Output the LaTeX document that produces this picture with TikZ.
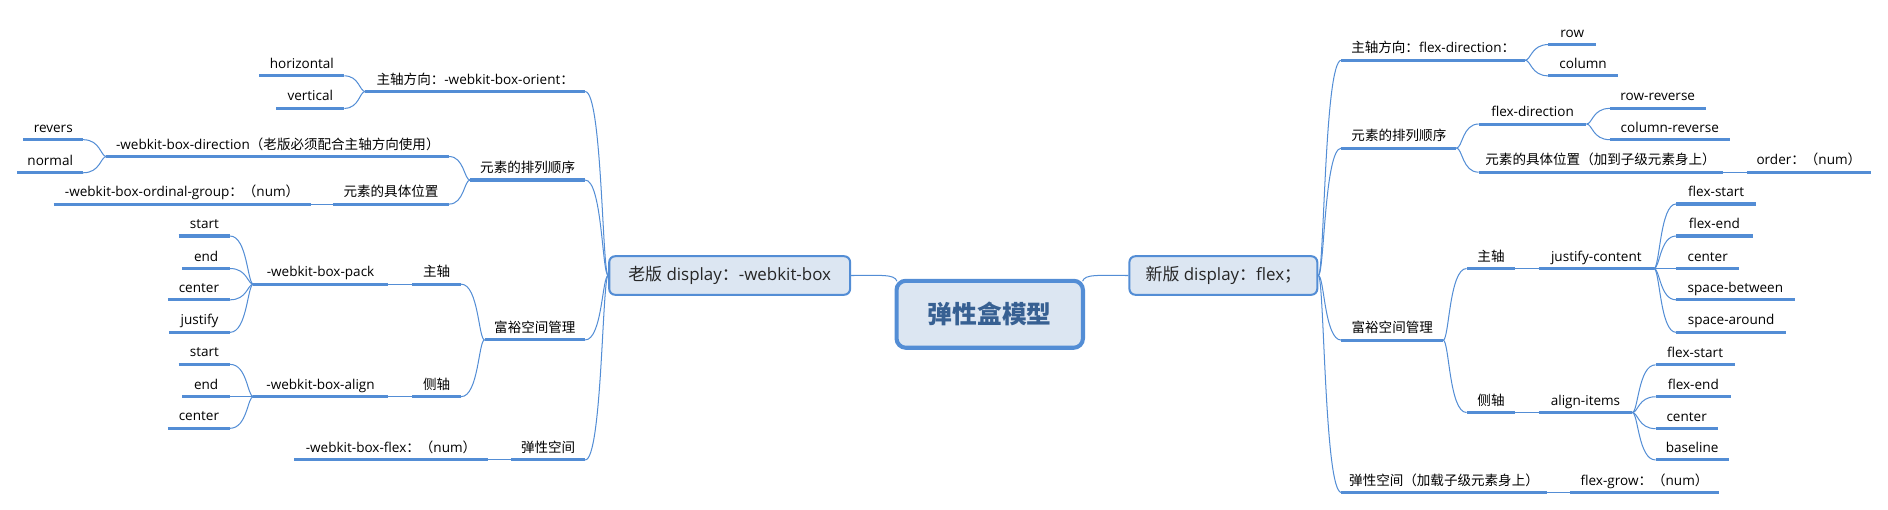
\documentclass[tikz,border=0pt]{standalone}
\usepackage{fontspec}
\usepackage{tikz}
\usetikzlibrary{calc}
\setmainfont{Open Sans}
\newfontfamily\cn{Noto Sans CJK SC}
\definecolor{xblue}{RGB}{83,141,213}
\definecolor{xfill}{RGB}{220,230,242}
\definecolor{xdark}{RGB}{55,96,146}

\begin{document}
\begin{tikzpicture}[x=0.025cm, y=-0.025cm,
    topic/.style={font=\fontsize{8}{9}\selectfont, inner xsep=0pt, inner ysep=2.4pt,
                  text height=6.2pt, text depth=1.8pt, minimum width=#1*0.025cm},
    lefttopic/.style={topic=#1, anchor=south east},
    righttopic/.style={topic=#1, anchor=south west},
    uline/.style={draw=xblue, line width=1.8pt},
    conn/.style={draw=xblue, line width=0.6pt},
    lcurve/.style={to path={.. controls ($(\tikztostart)+(-5,0)$) and ($(\tikztostart|-\tikztotarget)+(-5,0)$) .. (\tikztotarget)}},
    rcurve/.style={to path={.. controls ($(\tikztostart)+(5,0)$) and ($(\tikztostart|-\tikztotarget)+(5,0)$) .. (\tikztotarget)}},
    mainbox/.style={rectangle, rounded corners=3.5pt, draw=xblue, line width=1.2pt, fill=xfill,
                    text=black!85, font=\fontsize{10}{12}\selectfont, minimum height=0.8cm}]

    \useasboundingbox (0,0) rectangle (1568,423);

    % Root and main branches
    \node[rectangle, rounded corners=5.5pt, draw=xblue, line width=2.4pt, fill=xfill, text=xdark,
          minimum width=3.87cm, minimum height=1.39cm, font=\fontsize{14.6}{16}\selectfont\cn\bfseries]
          (root) at (822,261) {弹性盒模型};
    \node[mainbox, minimum width=5cm] (oldbox) at (606,228.8) {{\cn 老版} display{\cn ：}-webkit-box};
    \node[mainbox, minimum width=3.9cm] (newbox) at (1016,228.8) {{\cn 新版} display{\cn ：}flex{\cn ；}};

    % Old version (left)
    \node[lefttopic=182] (lorient) at (486,76) {{\cn 主轴方向：}-webkit-box-orient{\cn ：}};
    \node[lefttopic=70] (lhoriz) at (286,63) {horizontal};
    \node[lefttopic=56] (lvert) at (286,90) {vertical};
    \node[lefttopic=95] (lorder) at (486,149.5) {{\cn 元素的排列顺序}};
    \node[lefttopic=284] (ldir) at (373,130) {-webkit-box-direction{\cn （老版必须配合主轴方向使用）}};
    \node[lefttopic=49] (lrevers) at (69,116) {revers};
    \node[lefttopic=54] (lnormal) at (69,143.5) {normal};
    \node[lefttopic=96] (lpos) at (373,169.5) {{\cn 元素的具体位置}};
    \node[lefttopic=213] (lordinal) at (258,169.5) {-webkit-box-ordinal-group{\cn ：（}num{\cn ）}};
    \node[lefttopic=83] (lspace) at (486,282.3) {{\cn 富裕空间管理}};
    \node[lefttopic=40] (lmain) at (383,236) {{\cn 主轴}};
    \node[lefttopic=111] (lpack) at (322,236) {-webkit-box-pack};
    \node[lefttopic=42] (lpstart) at (191,196) {start};
    \node[lefttopic=39] (lpend) at (191,223) {end};
    \node[lefttopic=51] (lpcenter) at (191,249) {center};
    \node[lefttopic=50] (lpjustify) at (191,276) {justify};
    \node[lefttopic=40] (lcross) at (383,329.4) {{\cn 侧轴}};
    \node[lefttopic=111] (lalign) at (322,329.4) {-webkit-box-align};
    \node[lefttopic=42] (lastart) at (191,302.6) {start};
    \node[lefttopic=39] (laend) at (191,329.4) {end};
    \node[lefttopic=51] (lacenter) at (191,355.7) {center};
    \node[lefttopic=61] (lflex) at (486,382) {{\cn 弹性空间}};
    \node[lefttopic=160] (lboxflex) at (405,382) {-webkit-box-flex{\cn ：（}num{\cn ）}};

    % New version (right)
    \node[righttopic=152] (rdir) at (1114,50) {{\cn 主轴方向：}flex-direction{\cn ：}};
    \node[righttopic=39] (rrow) at (1286,37) {row};
    \node[righttopic=57] (rcol) at (1286,63) {column};
    \node[righttopic=95] (rorder) at (1114,123) {{\cn 元素的排列顺序}};
    \node[righttopic=89] (rfdir) at (1228,103) {flex-direction};
    \node[righttopic=79] (rrowrev) at (1337,90) {row-reverse};
    \node[righttopic=99] (rcolrev) at (1337,116) {column-reverse};
    \node[righttopic=202] (rpos) at (1228,143) {{\cn 元素的具体位置（加到子级元素身上）}};
    \node[righttopic=102] (rorderp) at (1451,143) {order{\cn ：（}num{\cn ）}};
    \node[righttopic=84] (rspace) at (1114,282.5) {{\cn 富裕空间管理}};
    \node[righttopic=40] (rmain) at (1218,223) {{\cn 主轴}};
    \node[righttopic=95] (rjustify) at (1278,223) {justify-content};
    \node[righttopic=66] (rjstart) at (1392,169.4) {flex-start};
    \node[righttopic=63] (rjend) at (1392,196) {flex-end};
    \node[righttopic=52] (rjcenter) at (1392,223) {center};
    \node[righttopic=98] (rjbetween) at (1392,249) {space-between};
    \node[righttopic=91] (rjaround) at (1392,276) {space-around};
    \node[righttopic=40] (rcross) at (1218,342.6) {{\cn 侧轴}};
    \node[righttopic=77] (ritems) at (1278,342.6) {align-items};
    \node[righttopic=65] (ristart) at (1375,303) {flex-start};
    \node[righttopic=62] (riend) at (1375,329.5) {flex-end};
    \node[righttopic=51] (ricenter) at (1375,356) {center};
    \node[righttopic=60] (ribase) at (1375,382) {baseline};
    \node[righttopic=170] (rflex) at (1114,409) {{\cn 弹性空间（加载子级元素身上）}};
    \node[righttopic=123] (rgrow) at (1304,409) {flex-grow{\cn ：（}num{\cn ）}};

    % Root connectors
    \draw[conn] ([shift={(2,2)}]root.north west) .. controls +(-2,-6) and +(25,0) .. (oldbox.east);
    \draw[conn] ([shift={(-2,2)}]root.north east) .. controls +(2,-6) and +(-25,0) .. (newbox.west);

    % Left connectors
    \draw[conn] (oldbox.west) to[lcurve] (lorient.south east);
    \draw[conn] (oldbox.west) to[lcurve] (lorder.south east);
    \draw[conn] (oldbox.west) to[lcurve] (lspace.south east);
    \draw[conn] (oldbox.west) to[lcurve] (lflex.south east);
    \draw[conn] (lorient.south west) to[lcurve] (lhoriz.south east);
    \draw[conn] (lorient.south west) to[lcurve] (lvert.south east);
    \draw[conn] (lorder.south west) to[lcurve] (ldir.south east);
    \draw[conn] (lorder.south west) to[lcurve] (lpos.south east);
    \draw[conn] (ldir.south west) to[lcurve] (lrevers.south east);
    \draw[conn] (ldir.south west) to[lcurve] (lnormal.south east);
    \draw[conn] (lpos.south west) to[lcurve] (lordinal.south east);
    \draw[conn] (lspace.south west) to[lcurve] (lmain.south east);
    \draw[conn] (lspace.south west) to[lcurve] (lcross.south east);
    \draw[conn] (lmain.south west) to[lcurve] (lpack.south east);
    \draw[conn] (lcross.south west) to[lcurve] (lalign.south east);
    \draw[conn] (lpack.south west) to[lcurve] (lpstart.south east);
    \draw[conn] (lpack.south west) to[lcurve] (lpend.south east);
    \draw[conn] (lpack.south west) to[lcurve] (lpcenter.south east);
    \draw[conn] (lpack.south west) to[lcurve] (lpjustify.south east);
    \draw[conn] (lalign.south west) to[lcurve] (lastart.south east);
    \draw[conn] (lalign.south west) to[lcurve] (laend.south east);
    \draw[conn] (lalign.south west) to[lcurve] (lacenter.south east);
    \draw[conn] (lflex.south west) to[lcurve] (lboxflex.south east);

    % Right connectors
    \draw[conn] (newbox.east) to[rcurve] (rdir.south west);
    \draw[conn] (newbox.east) to[rcurve] (rorder.south west);
    \draw[conn] (newbox.east) to[rcurve] (rspace.south west);
    \draw[conn] (newbox.east) to[rcurve] (rflex.south west);
    \draw[conn] (rdir.south east) to[rcurve] (rrow.south west);
    \draw[conn] (rdir.south east) to[rcurve] (rcol.south west);
    \draw[conn] (rorder.south east) to[rcurve] (rfdir.south west);
    \draw[conn] (rorder.south east) to[rcurve] (rpos.south west);
    \draw[conn] (rfdir.south east) to[rcurve] (rrowrev.south west);
    \draw[conn] (rfdir.south east) to[rcurve] (rcolrev.south west);
    \draw[conn] (rpos.south east) to[rcurve] (rorderp.south west);
    \draw[conn] (rspace.south east) to[rcurve] (rmain.south west);
    \draw[conn] (rspace.south east) to[rcurve] (rcross.south west);
    \draw[conn] (rmain.south east) to[rcurve] (rjustify.south west);
    \draw[conn] (rcross.south east) to[rcurve] (ritems.south west);
    \draw[conn] (rjustify.south east) to[rcurve] (rjstart.south west);
    \draw[conn] (rjustify.south east) to[rcurve] (rjend.south west);
    \draw[conn] (rjustify.south east) to[rcurve] (rjcenter.south west);
    \draw[conn] (rjustify.south east) to[rcurve] (rjbetween.south west);
    \draw[conn] (rjustify.south east) to[rcurve] (rjaround.south west);
    \draw[conn] (ritems.south east) to[rcurve] (ristart.south west);
    \draw[conn] (ritems.south east) to[rcurve] (riend.south west);
    \draw[conn] (ritems.south east) to[rcurve] (ricenter.south west);
    \draw[conn] (ritems.south east) to[rcurve] (ribase.south west);
    \draw[conn] (rflex.south east) to[rcurve] (rgrow.south west);

    % Underlines
    \foreach \n in {lorient,lhoriz,lvert,lorder,ldir,lrevers,lnormal,lpos,lordinal,lspace,lmain,lpack,
                    lpstart,lpend,lpcenter,lpjustify,lcross,lalign,lastart,laend,lacenter,lflex,lboxflex,
                    rdir,rrow,rcol,rorder,rfdir,rrowrev,rcolrev,rpos,rorderp,rspace,rmain,rjustify,
                    rjstart,rjend,rjcenter,rjbetween,rjaround,rcross,ritems,ristart,riend,ricenter,ribase,
                    rflex,rgrow}
        \draw[uline] (\n.south west) -- (\n.south east);
\end{tikzpicture}
\end{document}
